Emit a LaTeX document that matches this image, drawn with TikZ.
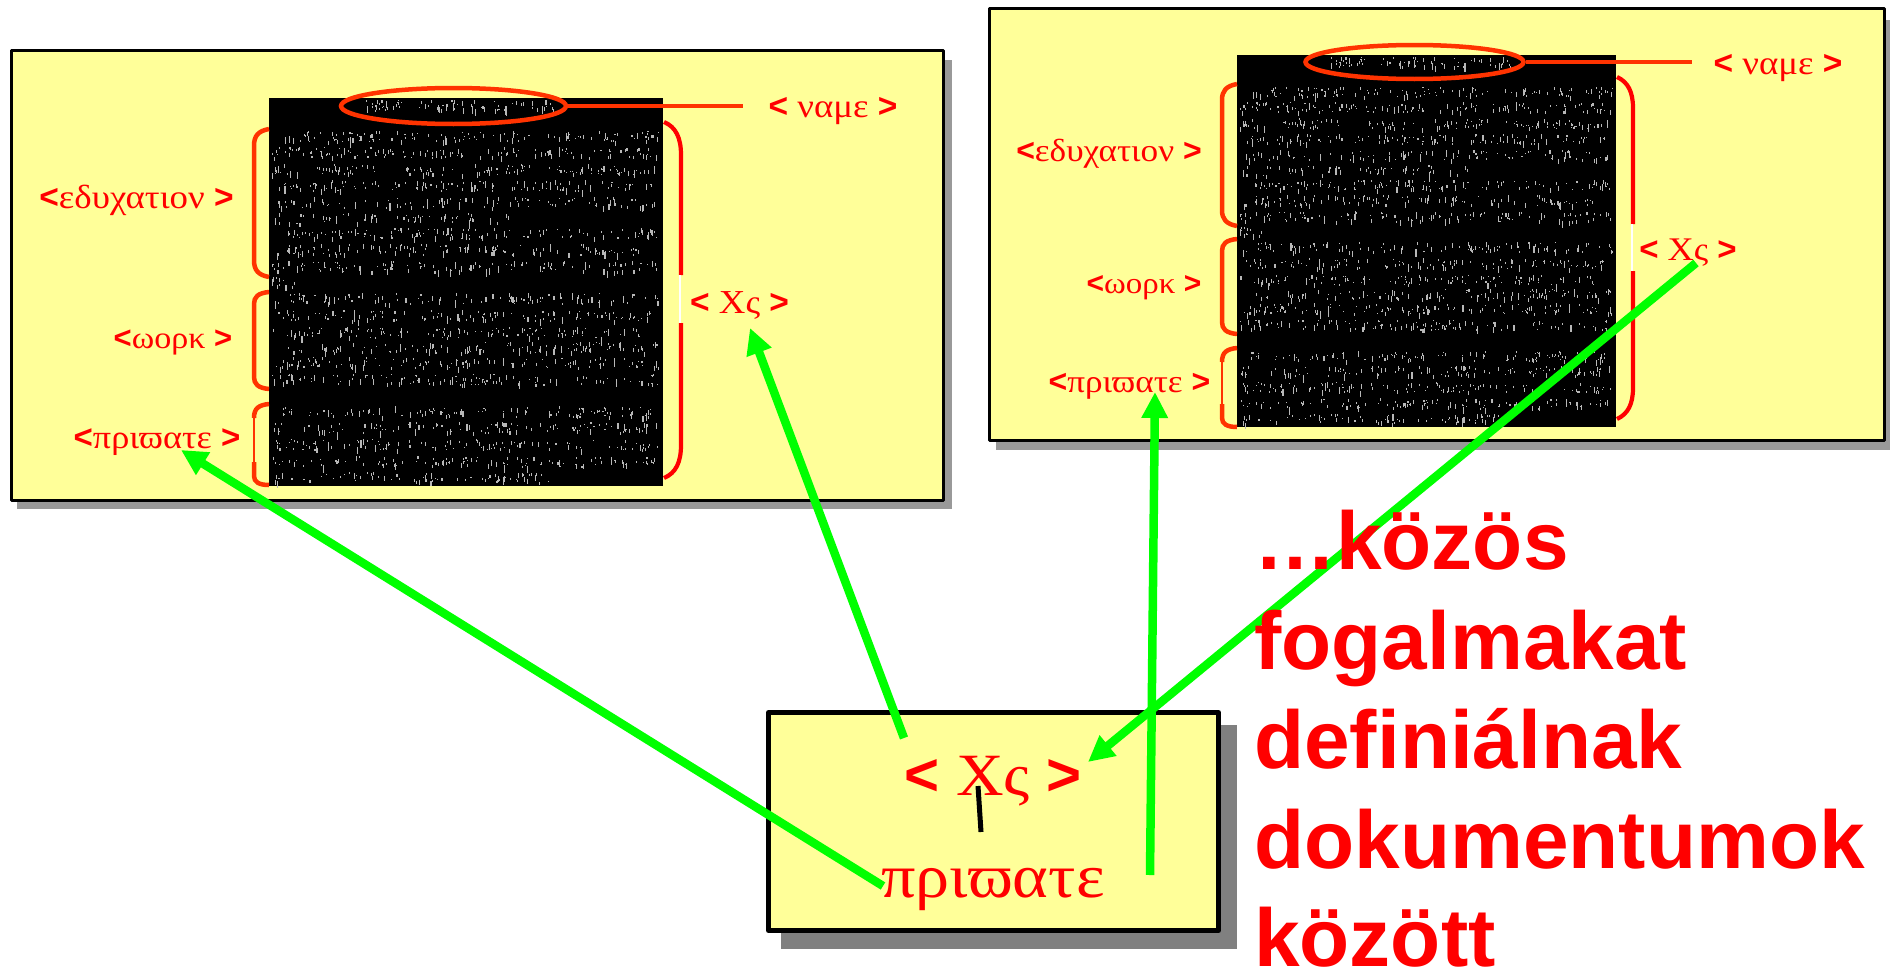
\documentclass[tikz,border=0pt]{standalone}
\usepackage{fontspec}
\setmainfont{Liberation Sans}
\newfontfamily\grk[FakeStretch=1.1]{Liberation Serif}
\usetikzlibrary{arrows.meta,shapes.geometric}
\definecolor{panelfill}{HTML}{FFFF99}
\definecolor{markred}{HTML}{FF3300}
\definecolor{greenarrow}{HTML}{00FF00}
\tikzset{
  x=1pt,y=-1pt,
  panel/.style={draw=black,fill=panelfill,line width=3pt,inner sep=0pt,rectangle,line join=round},
  shadowbox/.style={fill=#1,draw=none},
  blackpage/.style={fill=black,draw=none,inner sep=0pt,rectangle},
  smalllabel/.style={text=red,inner sep=0pt,anchor=base,font=\fontsize{#1}{#1}\selectfont},
  smalllabel/.default=33.5,
  biglabel/.style={text=red,inner sep=0pt,anchor=base,font=\fontsize{#1}{#1}\selectfont},
  bigtext/.style={text=red,inner sep=0pt,anchor=base west,font=\fontsize{82}{82}\selectfont\bfseries},
  markline/.style={draw=markred,line width=4.5pt},
  markellipse/.style={draw=markred,line width=4.5pt,ellipse,fill=none,inner sep=0pt},
  thinmark/.style={draw=markred,line width=1.5pt},
  redbrace/.style={draw=red,line width=4.2pt},
  greenline/.style={draw=greenarrow,line width=8.5pt,-{Triangle[length=26pt,width=25pt]}},
  speck/.style={fill=white!72!black,draw=none},
}
\newcommand{\bb}[1]{{\bfseries #1}}
\newcommand{\speckline}[4]{%
  \foreach \i in {1,...,#4}{%
    \pgfmathsetmacro\sx{#2+rnd*(#3-#2)}%
    \pgfmathsetmacro\sy{#1-6+rnd*10}%
    \pgfmathsetmacro\sh{1+rnd*rnd*8}%
    \fill[speck] (\sx,\sy) rectangle +(1.1,\sh);
  }}
\newcommand{\noisepage}{%
  \pgfmathsetseed{4242}%
  \speckline{8}{95}{132}{26}\speckline{8}{145}{285}{55}
  \speckline{39}{14}{390}{120}\speckline{55}{2}{390}{125}\speckline{72}{2}{388}{120}
  \speckline{88}{6}{385}{115}\speckline{105}{2}{386}{100}\speckline{121}{2}{250}{55}
  \speckline{136}{14}{390}{115}\speckline{152}{2}{370}{115}\speckline{169}{2}{390}{115}
  \speckline{185}{2}{28}{12}
  \speckline{201}{4}{390}{110}\speckline{218}{2}{382}{115}\speckline{235}{2}{372}{110}
  \speckline{250}{6}{390}{115}\speckline{265}{2}{390}{120}\speckline{282}{2}{390}{115}
  \speckline{314}{14}{385}{110}\speckline{330}{4}{388}{115}\speckline{347}{2}{390}{115}
  \speckline{364}{2}{390}{110}\speckline{380}{2}{280}{75}
}
\begin{document}
\begin{tikzpicture}
\useasboundingbox (0,0) rectangle (1890,969);
% shadows
\fill[shadowbox=black!40] (17,60) rectangle (952,509);
\fill[shadowbox=black!40] (996,20) rectangle (1890,450);
\fill[shadowbox=black!50] (781,725) rectangle (1237,949);
% panels
\node[panel,minimum width=932pt,minimum height=450pt] (leftpanel) at (477,275) {};
\node[panel,minimum width=895pt,minimum height=432pt] (rightpanel) at (1436.5,224.5) {};
\node[panel,line width=5pt,minimum width=450pt,minimum height=218pt] (bottompanel) at (993.5,821.5) {};
% pages
\node[blackpage,minimum width=394pt,minimum height=388pt] (leftpage) at (466,292) {};
\node[blackpage,minimum width=379pt,minimum height=372pt] (rightpage) at (1426.5,241) {};
\begin{scope}[shift={(269,98)}]\noisepage\end{scope}
\begin{scope}[shift={(1237,55)},xscale=.962,yscale=.959]\noisepage\end{scope}
% left marks
\node[markellipse,minimum width=225pt,minimum height=36pt] (leftname) at (453.5,106) {};
\coordinate (leftnameend) at (743,106);
\draw[markline] (leftname.east) -- (leftnameend);
\draw[markline] (269,129) .. controls (258,131) and (254,136) .. (254,146) -- (254,260) .. controls (254,270) and (258,275) .. (269,277);
\draw[markline] (269,292) .. controls (258,293) and (254,297) .. (254,304) -- (254,377) .. controls (254,384) and (258,388) .. (269,389);
\draw[thinmark] (254,418) -- (254,462);
\draw[markline] (269,404) .. controls (259,405) and (254,408) .. (254,418);
\draw[markline] (254,462) -- (254,476) .. controls (254,482) and (259,485) .. (269,485);
\draw[redbrace] (664,122) .. controls (676,127) and (681,138) .. (681,155) -- (681,275);
\draw[redbrace] (681,323) -- (681,445) .. controls (681,462) and (676,473) .. (664,478);
\draw[white,line width=1.2pt] (680,275) -- (680,323);
% right marks
\node[markellipse,minimum width=218pt,minimum height=34pt] (rightname) at (1414.5,62) {};
\coordinate (rightnameend) at (1692,62);
\draw[markline] (rightname.east) -- (rightnameend);
\draw[markline] (1237,84) .. controls (1226,86) and (1222,91) .. (1222,100) -- (1222,210) .. controls (1222,219) and (1226,224) .. (1237,226);
\draw[markline] (1237,239) .. controls (1226,240) and (1222,244) .. (1222,251) -- (1222,322) .. controls (1222,329) and (1226,333) .. (1237,334);
\draw[thinmark] (1222,362) -- (1222,404);
\draw[markline] (1237,348) .. controls (1227,349) and (1222,352) .. (1222,362);
\draw[markline] (1222,404) -- (1222,418) .. controls (1222,424) and (1227,427) .. (1237,427);
\draw[redbrace] (1617,77) .. controls (1628,82) and (1633,92) .. (1633,108) -- (1633,224);
\draw[redbrace] (1633,271) -- (1633,388) .. controls (1633,404) and (1628,414) .. (1617,419);
\draw[white,line width=1.2pt] (1632,224) -- (1632,271);
% left labels
\node[smalllabel] (lname) at (833,117) {\bb{<} {\grk ναμε} \bb{>}};
\node[smalllabel] (ledu) at (136.5,208) {\bb{<}{\grk εδυχατιον} \bb{>}};
\node[smalllabel=31] (lwork) at (173,348) {\bb{<}{\grk ωορκ} \bb{>}};
\node[smalllabel=33] (lpriv) at (157,448) {\bb{<}{\grk πριϖατε} \bb{>}};
\node[smalllabel] (lxs) at (739.5,313) {\bb{<} {\grk Χς} \bb{>}};
% right labels
\node[smalllabel] (rname) at (1778,74) {\bb{<} {\grk ναμε} \bb{>}};
\node[smalllabel=32] (redu) at (1109,161) {\bb{<}{\grk εδυχατιον} \bb{>}};
\node[smalllabel=30] (rwork) at (1144,293) {\bb{<}{\grk ωορκ} \bb{>}};
\node[smalllabel=32] (rpriv) at (1129.5,392) {\bb{<}{\grk πριϖατε} \bb{>}};
\node[smalllabel=33] (rxs) at (1688,260) {\bb{<} {\grk Χς} \bb{>}};
% bottom labels
\node[biglabel=60] (bxs) at (993,795) {\bb{<} {\grk Χς} \bb{>}};
\node[biglabel=62] (bpriv) at (993,897) {\grk πριϖατε};
\coordinate (tickA) at (978,786);
\coordinate (tickB) at (981,832);
\draw[black,line width=5pt] (tickA) -- (tickB);
% green connectors
\coordinate (a1s) at (883,886); \coordinate (a1e) at (181,450);
\coordinate (a2s) at (904,738); \coordinate (a2e) at (750,328);
\coordinate (a3s) at (1696,263); \coordinate (a3e) at (1088,762);
\coordinate (a4s) at (1150,875); \coordinate (a4e) at (1155,392);
\draw[greenline] (a1s) -- (a1e);
\draw[greenline] (a2s) -- (a2e);
\draw[greenline] (a3s) -- (a3e);
\draw[greenline] (a4s) -- (a4e);
% big text
\node[bigtext] (t1) at (1254,569) {…közös};
\node[bigtext] (t2) at (1254,669) {fogalmakat};
\node[bigtext] (t3) at (1254,768) {definiálnak};
\node[bigtext] (t4) at (1254,868) {dokumentumok};
\node[bigtext] (t5) at (1254,966) {között};
\end{tikzpicture}
\end{document}
